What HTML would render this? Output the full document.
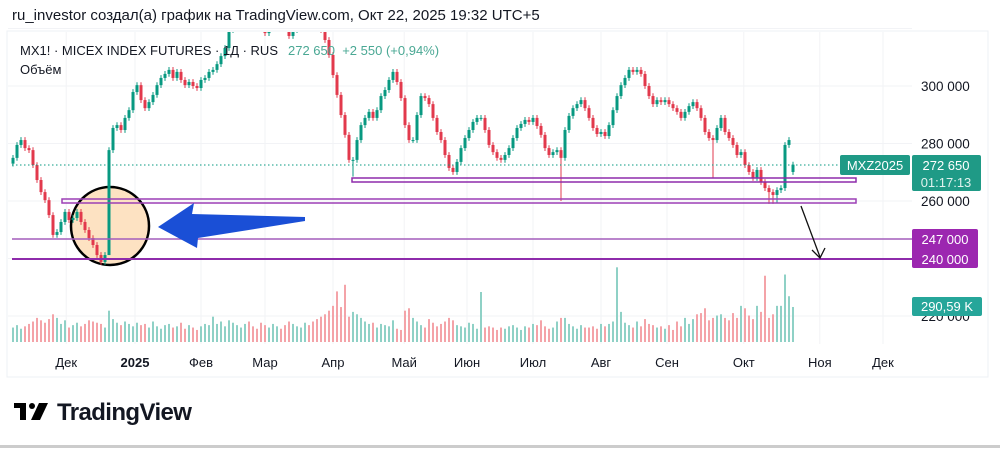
<!DOCTYPE html>
<html><head><meta charset="utf-8"><style>
body{margin:0;width:1000px;height:448px;background:#fff;overflow:hidden;font-family:"Liberation Sans","Noto Sans CJK SC",sans-serif;}
svg text{font-family:"Liberation Sans","DejaVu Sans",sans-serif;}
</style></head><body>
<svg id="chart" width="1000" height="448" viewBox="0 0 1000 448" xmlns="http://www.w3.org/2000/svg">
<rect x="0" y="0" width="1000" height="448" fill="#fff"/>
<text x="12" y="20" font-size="15" fill="#131722">ru_investor создал(а) график на TradingView.com, Окт 22, 2025 19:32 UTC+5</text>
<rect x="7" y="31" width="981" height="346" fill="none" stroke="#eef0f4"/>
<g id="grid"></g>
<circle cx="110" cy="226" r="39" fill="#fde2c2" stroke="#000" stroke-width="2.5"/>
<g id="vol"></g>
<g id="candles" clip-path="url(#pane)"></g>
<defs><clipPath id="pane"><rect x="8" y="32" width="902" height="312"/></clipPath></defs>
<line x1="12" y1="165" x2="840" y2="165" stroke="#089981" stroke-dasharray="1.5,2.5" stroke-width="1"/>
<rect x="352" y="178" width="504" height="4" fill="none" stroke="#8e2bab" stroke-width="1.5"/>
<rect x="62" y="199" width="794" height="4" fill="none" stroke="#9c3fb5" stroke-width="1.5"/>
<line x1="12" y1="239" x2="912" y2="239" stroke="#a35dbb" stroke-width="1.5"/>
<line x1="12" y1="259" x2="912" y2="259" stroke="#8e2bab" stroke-width="2"/>
<polygon points="158,227 194,203 192,214 305,217 305,221 198,238 197,248" fill="#1a4fd6"/>
<g stroke="#111" stroke-width="1.3" fill="none"><line x1="801" y1="206" x2="820" y2="257"/><polyline points="812,250 820,258 825,248"/></g>
<text x="20" y="55" font-size="13" fill="#131722">MX1! · MICEX INDEX FUTURES · 1Д · RUS</text>
<text x="288" y="55" font-size="13" fill="#4aa894" xml:space="preserve">272 650  +2 550 (+0,94%)</text>
<text x="20" y="74" font-size="13" fill="#131722">Объём</text>
<g id="yaxis"></g>
<rect x="840" y="155" width="70" height="20" rx="2" fill="#1f9a86"/>
<text x="875" y="170" font-size="13" fill="#fff" text-anchor="middle">MXZ2025</text>
<rect x="912" y="155" width="69" height="36" rx="2" fill="#1f9a86"/>
<text x="946" y="170" font-size="13" fill="#fff" text-anchor="middle">272 650</text>
<text x="946" y="187" font-size="13" fill="#e0f2ee" text-anchor="middle">01:17:13</text>
<rect x="912" y="229" width="66" height="39" rx="2" fill="#9c27b0"/>
<text x="945" y="244" font-size="13" fill="#fff" text-anchor="middle">247 000</text>
<text x="945" y="264" font-size="13" fill="#fff" text-anchor="middle">240 000</text>
<rect x="912" y="297" width="70" height="19" rx="2" fill="#26a69a"/>
<text x="947" y="311" font-size="13" fill="#fff" text-anchor="middle">290,59 K</text>
<g id="xaxis"></g>
<g>
<rect x="14" y="403" width="11" height="5" fill="#000"/><rect x="20" y="403" width="6" height="17" fill="#000"/>
<circle cx="32" cy="406" r="3" fill="#000"/><polygon points="39,403 48,403 40,420 31,420" fill="#000"/>
<text x="57" y="420" font-size="24" font-weight="bold" fill="#131722" letter-spacing="-0.6">TradingView</text>
</g>
<rect x="0" y="445" width="1000" height="3" fill="#ccc"/>
</svg>
<script>
const closes=[275.0,279.5,281.2,278.4,277.7,272.5,267.3,263.1,260.3,255.1,
248.2,249.2,252.7,256.2,253.4,254.1,256.2,252.7,249.9,247.1,
244.7,241.2,238.8,241.2,277.7,285.4,286.4,284.7,288.9,291.6,
297.9,300.3,295.1,292.3,294.4,296.9,300.3,302.8,304.2,305.6,
302.8,304.9,302.1,300.3,301.4,300.0,299.3,302.1,302.8,304.9,
305.6,307.6,310.4,313.2,319.5,323.0,324.7,326.4,328.2,326.4,
325.7,324.7,322.3,318.4,321.2,323.6,324.7,323.0,320.2,317.4,
319.5,323.0,326.4,327.1,325.7,323.6,321.2,319.5,316.0,310.8,
303.8,296.9,289.9,283.0,274.3,274.3,281.2,286.4,288.9,291.0,
288.9,291.6,296.5,298.6,302.1,304.9,301.4,295.8,286.4,281.2,
281.2,289.9,296.5,295.8,293.7,288.9,284.0,281.2,276.0,271.5,
270.1,273.6,278.4,281.9,284.7,287.5,288.9,288.9,284.7,279.5,
277.0,275.0,274.3,276.0,278.4,281.9,285.4,286.8,288.2,287.5,
288.9,286.1,283.0,278.4,276.0,277.0,277.7,275.0,284.7,289.6,
292.3,293.7,295.1,292.3,288.9,285.4,283.3,284.0,282.6,286.4,
291.6,296.5,300.3,302.8,305.6,304.9,305.6,304.2,300.0,296.5,
293.7,295.1,294.4,295.1,293.7,292.3,291.0,288.9,291.0,293.0,
294.4,292.3,288.9,284.0,281.9,281.2,285.4,288.9,284.0,281.9,
279.5,276.0,277.0,272.5,270.1,268.0,270.8,266.6,264.5,263.1,
262.1,263.8,264.5,279.5,281.2,272.65];
const lowIdx=[137,175,85,189,190,191,24];
const lowVals=[260.0,268.0,268.5,259.0,259.0,259.5,258.0];
const volumes=[120,140,110,130,150,170,200,180,160,190,
230,200,150,180,120,140,160,130,150,180,
170,160,150,120,260,190,160,140,170,150,
130,160,140,150,120,170,130,110,140,150,
120,130,160,110,140,120,100,130,150,140,
210,150,170,130,180,160,140,120,150,170,
130,110,160,140,120,150,130,110,140,170,
150,130,120,160,140,170,190,210,230,260,
300,420,290,475,210,250,230,200,170,150,
160,120,150,140,130,180,110,100,260,280,
200,170,140,120,190,160,130,150,170,200,
180,140,130,120,160,150,110,415,120,130,
120,100,120,110,130,140,120,100,130,120,
150,140,180,130,110,120,170,200,200,150,
130,110,140,120,120,130,110,150,130,150,
170,620,250,160,140,120,170,130,190,150,
140,120,130,110,140,100,170,130,200,150,
190,230,240,280,180,200,220,230,200,180,
240,200,300,280,220,190,300,250,550,200,
230,300,300,560,380,290.59];
const priceTicks=[220,240,260,280,300,320];
const priceTickLabels=["220 000","","260 000","280 000","300 000",""];
const months=["Дек","2025","Фев","Мар","Апр","Май","Июн","Июл","Авг","Сен","Окт","Ноя","Дек"];
const monthIdx=[13.3,30.5,47,63,80,97.8,113.5,130,147,163.5,182.7,201.7,217.5];

const NS="http://www.w3.org/2000/svg";
const yP=p=>201-(p-260)*57.5/20;
const xI=i=>13+i*4;
const yV=v=>342-v/8.3;
function mk(tag,attrs,parent){const e=document.createElementNS(NS,tag);for(const k in attrs)e.setAttribute(k,attrs[k]);document.getElementById(parent).appendChild(e);return e;}

priceTicks.forEach((p,i)=>{
  const g=mk('line',{x1:8,x2:912,y1:yP(p),y2:yP(p),stroke:'#f2f3f6'},'grid');
  
  
  if(priceTickLabels[i]){
    const t=mk('text',{x:921,y:yP(p)+5,'font-size':13.5,fill:'#131722'},'yaxis');
    t.textContent=priceTickLabels[i];
    
    
  }
});
months.forEach((m,i)=>{
  const x=xI(monthIdx[i]);
  const g=mk('line',{x1:x,x2:x,y1:32,y2:344,stroke:'#f2f3f6'},'grid');
  
  
  const t=mk('text',{x:x,y:367,'font-size':13,fill:'#131722','text-anchor':'middle','font-weight':m==='2025'?'bold':'normal'},'xaxis');
  t.textContent=m;
  
  
});
closes.forEach((c,i)=>{
  const o=i===0?c-2:(i===closes.length-1?270.1:closes[i-1]);
  const up=c>=o;
  const col=up?'#089981':'#e2394c';
  let lo=Math.min(o,c)-1.0;const hi=Math.max(o,c)+1.0;
  const k=lowIdx.indexOf(i);if(k>=0)lo=lowVals[k];
  const x=xI(i);
  const w=mk('line',{x1:x,x2:x,y1:yP(hi),y2:yP(lo),stroke:col,'stroke-width':1},'candles');
  
  
  const top=yP(Math.max(o,c)),bot=yP(Math.min(o,c));
  const b=mk('rect',{x:x-1.5,y:top,width:3,height:Math.max(1,bot-top),fill:col},'candles');
  
  
  const v=volumes[i];
  const vb=mk('rect',{x:x-1,y:yV(v),width:2,height:342-yV(v),fill:up?'#8fd1c6':'#f4a3a8'},'vol');
  
  
});
</script>
</body></html>
